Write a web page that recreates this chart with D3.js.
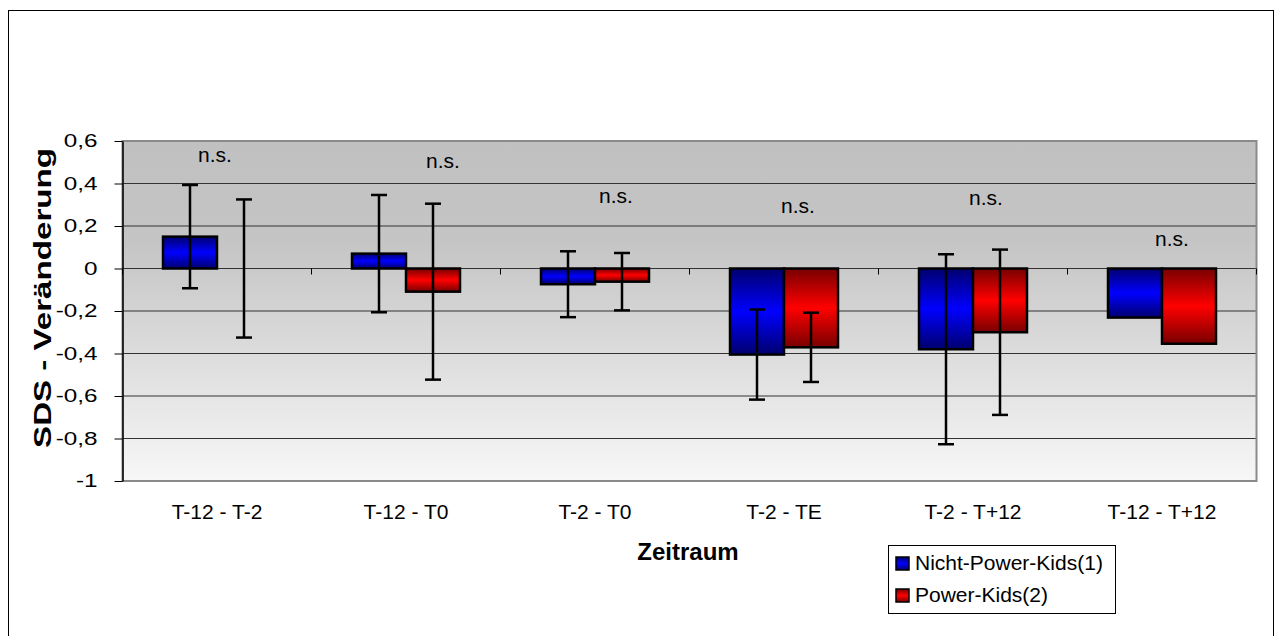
<!DOCTYPE html>
<html>
<head>
<meta charset="utf-8">
<script src="https://cdn.jsdelivr.net/npm/d3@7"></script>
<style>
  body { margin: 0; background: #fff; }
  text { font-family: Arial, "Liberation Sans", sans-serif; fill: #000; }
</style>
</head>
<body>
<script>
// data
var categories = ['T-12 - T-2', 'T-12 - T0', 'T-2 - T0', 'T-2 - TE', 'T-2 - T+12', 'T-12 - T+12'];
var seriesNames = ['Nicht-Power-Kids(1)', 'Power-Kids(2)'];
var nichtPower = [0.15, 0.07, -0.074, -0.405, -0.38, -0.231];
var power = [0.0, -0.109, -0.062, -0.371, -0.30, -0.354];
var nichtPowerSD = [0.243, 0.276, 0.155, 0.212, 0.447, null];
var powerSD = [0.325, 0.414, 0.135, 0.163, 0.389, null];
var yTicks = [0.6, 0.4, 0.2, 0, -0.2, -0.4, -0.6, -0.8, -1];
var sigLabels = ['n.s.', 'n.s.', 'n.s.', 'n.s.', 'n.s.', 'n.s.'];
var sigLevel = [0.529, 0.501, 0.336, 0.289, 0.327, 0.134];

var svgWidth = 1275, svgHeight = 636;
var margin = { top: 141, left: 122.5, right: 18.5, bottom: 155 };
var width = svgWidth - margin.left - margin.right;
var height = svgHeight - margin.top - margin.bottom;

var svg = d3.select('body').append('svg')
    .attr('width', svgWidth)
    .attr('height', svgHeight);

// outer chart frame
svg.append('rect')
    .attr('x', 8.5).attr('y', 10.5)
    .attr('width', 1265).attr('height', 640)
    .attr('fill', '#fff')
    .attr('stroke', '#000')
    .attr('stroke-width', 1);

var defs = svg.append('defs');

function vGrad(id, stops) {
    var g = defs.append('linearGradient')
        .attr('id', id)
        .attr('x1', 0).attr('y1', 0).attr('x2', 0).attr('y2', 1);
    stops.forEach(function(s) {
        g.append('stop').attr('offset', s[0]).attr('stop-color', s[1]);
    });
}
vGrad('bgGrad', [[0, '#c0c0c0'], [0.3, '#c5c5c5'], [1, '#f7f7f7']]);
vGrad('blueGrad', [[0, '#00006e'], [0.5, '#0000ff'], [1, '#00006e']]);
vGrad('redGrad', [[0, '#780000'], [0.5, '#ff0000'], [1, '#780000']]);

var fills = ['url(#blueGrad)', 'url(#redGrad)'];

var g = svg.append('g')
    .attr('transform', 'translate(' + margin.left + ',' + margin.top + ')');

var x0 = d3.scaleBand()
    .domain(categories)
    .range([0, width]);

// gap width 150% like the office default
var x1 = d3.scaleBand()
    .domain(seriesNames)
    .range([x0.bandwidth() * 0.75 / 3.5, x0.bandwidth() - x0.bandwidth() * 0.75 / 3.5]);

var y = d3.scaleLinear()
    .domain([-1, 0.6])
    .range([height, 0]);

// plot background
g.append('rect')
    .attr('width', width)
    .attr('height', height)
    .attr('fill', 'url(#bgGrad)');

// gridlines
g.selectAll('.grid')
    .data(yTicks.filter(function(d) { return d > -1 && d < 0.6; }))
    .enter().append('line')
    .attr('x1', 0).attr('x2', width)
    .attr('y1', function(d) { return y(d); })
    .attr('y2', function(d) { return y(d); })
    .attr('stroke', '#333')
    .attr('stroke-width', 1.2);

g.append('rect')
    .attr('width', width)
    .attr('height', height)
    .attr('fill', 'none')
    .attr('stroke', '#8a8a8a')
    .attr('stroke-width', 2);

// category tick marks on the zero line
g.selectAll('.xtick')
    .data(categories.concat(['end']))
    .enter().append('line')
    .attr('x1', function(d, i) { return i * x0.step(); })
    .attr('x2', function(d, i) { return i * x0.step(); })
    .attr('y1', y(0))
    .attr('y2', y(0) + 6)
    .attr('stroke', '#000')
    .attr('stroke-width', 1);

// bars
var rows = categories.map(function(c, i) {
    return [
        { cat: c, s: seriesNames[0], v: nichtPower[i], sd: nichtPowerSD[i], k: 0 },
        { cat: c, s: seriesNames[1], v: power[i], sd: powerSD[i], k: 1 }
    ];
});

var grp = g.selectAll('.grp')
    .data(rows)
    .enter().append('g')
    .attr('transform', function(d, i) { return 'translate(' + x0(categories[i]) + ',0)'; });

grp.selectAll('rect')
    .data(function(d) { return d; })
    .enter().append('rect')
    .attr('x', function(d) { return x1(d.s); })
    .attr('width', x1.bandwidth())
    .attr('y', function(d) { return y(Math.max(0, d.v)); })
    .attr('height', function(d) { return Math.abs(y(d.v) - y(0)); })
    .attr('fill', function(d) { return fills[d.k]; })
    .attr('stroke', '#000')
    .attr('stroke-width', 2.5);

// error bars
var eb = grp.selectAll('.err')
    .data(function(d) { return d.filter(function(e) { return e.sd != null; }); })
    .enter().append('g')
    .attr('stroke', '#000')
    .attr('stroke-width', 2.5);

eb.append('line')
    .attr('x1', function(d) { return x1(d.s) + x1.bandwidth() / 2; })
    .attr('x2', function(d) { return x1(d.s) + x1.bandwidth() / 2; })
    .attr('y1', function(d) { return y(d.v + d.sd); })
    .attr('y2', function(d) { return y(d.v - d.sd); });

[1, -1].forEach(function(sign) {
    eb.append('line')
        .attr('x1', function(d) { return x1(d.s) + x1.bandwidth() / 2 - 8; })
        .attr('x2', function(d) { return x1(d.s) + x1.bandwidth() / 2 + 8; })
        .attr('y1', function(d) { return y(d.v + sign * d.sd); })
        .attr('y2', function(d) { return y(d.v + sign * d.sd); });
});

// n.s. labels (text boxes sit a bit off centre in the original)
var sigShift = [-2, 37, 21, 14, 13, 10];
g.selectAll('.sig')
    .data(sigLabels)
    .enter().append('text')
    .attr('x', function(d, i) { return x0(categories[i]) + x0.bandwidth() / 2 + sigShift[i]; })
    .attr('y', function(d, i) { return y(sigLevel[i]) + 5.5; })
    .attr('text-anchor', 'middle')
    .style('font-size', '21px')
    .text(function(d) { return d; });

// y axis
var yAxis = g.append('g')
    .call(d3.axisLeft(y)
        .tickValues(yTicks)
        .tickSize(8)
        .tickSizeOuter(0)
        .tickFormat(function(d) { return String(d).replace('.', ','); }));
yAxis.select('.domain').attr('stroke', '#000').attr('stroke-width', 1.5);
yAxis.selectAll('.tick line').attr('stroke', '#000');
yAxis.selectAll('text')
    .attr('x', -18.5)
    .attr('transform', 'scale(1.35,1)')
    .style('font-size', '18px')
    .style('font-family', 'Arial, "Liberation Sans", sans-serif')
    .attr('fill', '#000');

// category labels
g.selectAll('.cat')
    .data(categories)
    .enter().append('text')
    .attr('x', function(d) { return x0(d) + x0.bandwidth() / 2; })
    .attr('y', height + 38)
    .attr('text-anchor', 'middle')
    .style('font-size', '21px')
    .text(function(d) { return d; });

// axis titles
svg.append('text')
    .attr('x', 688).attr('y', 560)
    .attr('text-anchor', 'middle')
    .style('font-size', '24px')
    .style('font-weight', 'bold')
    .text('Zeitraum');

svg.append('text')
    .attr('transform', 'translate(51,298) rotate(-90) scale(1.38,1)')
    .attr('text-anchor', 'middle')
    .style('font-size', '24px')
    .style('font-weight', 'bold')
    .text('SDS - Veränderung');

// legend
var legend = svg.append('g').attr('transform', 'translate(888,545)');
legend.append('rect')
    .attr('x', 0.5).attr('y', 0.5)
    .attr('width', 227).attr('height', 68)
    .attr('fill', '#fff')
    .attr('stroke', '#000')
    .attr('stroke-width', 1);

var item = legend.selectAll('.item')
    .data(seriesNames)
    .enter().append('g')
    .attr('transform', function(d, i) { return 'translate(8,' + (12 + i * 32) + ')'; });

item.append('rect')
    .attr('width', 13).attr('height', 13)
    .attr('fill', function(d, i) { return fills[i]; })
    .attr('stroke', '#000')
    .attr('stroke-width', 1.5);

item.append('text')
    .attr('x', 19)
    .attr('y', 13)
    .style('font-size', '21px')
    .text(function(d) { return d; });
</script>
</body>
</html>
